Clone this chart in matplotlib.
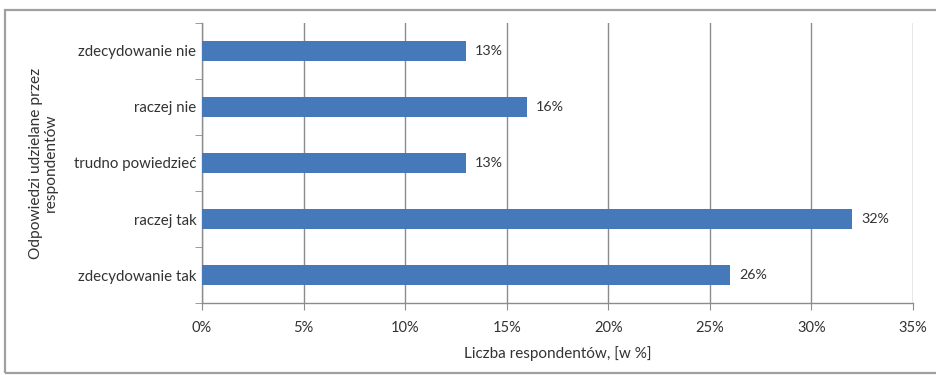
import matplotlib.pyplot as plt
from matplotlib.patches import Rectangle
import numpy as np

# answers, top to bottom as shown
answers = ['zdecydowanie nie', 'raczej nie', 'trudno powiedzieć', 'raczej tak', 'zdecydowanie tak']
shares = [13, 16, 13, 32, 26]
xticks = [0, 5, 10, 15, 20, 25, 30, 35]

plt.rcParams['font.family'] = ['Lato', 'DejaVu Sans']
txt = '#333333'
grid = '#8c8c8c'

fig = plt.figure(figsize=(9.37, 3.75), dpi=100)
ax = fig.add_axes([202/937, 72/375, 711/937, 280/375])

# outer frame around the chart
fig.patches.append(Rectangle((5/937, 2/375), 1.0, 363/375, transform=fig.transFigure,
                             fill=False, edgecolor='#a0a0a0', lw=1.6))

pos = np.arange(len(answers))[::-1]
ax.barh(pos, shares, height=0.36, color='#4679b9', zorder=3)
for p, v in zip(pos, shares):
    ax.text(v + 0.45, p, f'{v}%', va='center', ha='left', fontsize=10.3, color=txt)

ax.set_xlim(0, 35)
ax.set_ylim(-0.5, len(answers) - 0.5)
ax.set_xticks(xticks)
ax.set_xticklabels([f'{t}%' for t in xticks], fontsize=10.5, color=txt)
ax.set_yticks(pos)
ax.set_yticklabels(answers, fontsize=10.8, color=txt)
ax.tick_params(axis='y', length=0, pad=4)
ax.tick_params(axis='x', length=5, color=grid, pad=8)
ax.set_yticks(np.arange(-0.5, len(answers), 1.0), minor=True)
ax.tick_params(axis='y', which='minor', length=5, color=grid)

ax.xaxis.grid(True, color=grid, lw=1.0, zorder=0)
for s in ['top', 'right']:
    ax.spines[s].set_visible(False)
for s in ['left', 'bottom']:
    ax.spines[s].set_color(grid)
    ax.spines[s].set_linewidth(1.0)

ax.set_xlabel('Liczba respondentów, [w %]', fontsize=11, color=txt, labelpad=8)
ax.set_ylabel('Odpowiedzi udzielane przez\nrespondentów', fontsize=11.2, color=txt,
              labelpad=12, linespacing=1.0, multialignment='center')

fig.savefig('out.png', dpi=100, facecolor='white')
